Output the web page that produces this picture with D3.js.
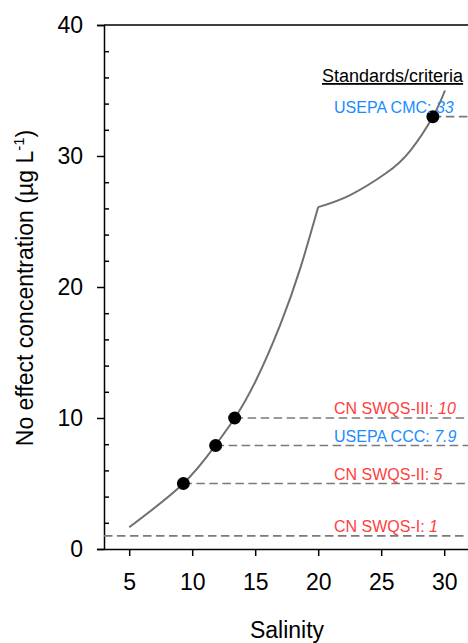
<!DOCTYPE html>
<html>
<head>
<meta charset="utf-8">
<script src="https://cdn.jsdelivr.net/npm/d3@7"></script>
<style>
	body { margin: 0; background: #fff; }
	svg { display: block; font-family: "Liberation Sans", Arial, sans-serif; }
</style>
</head>
<body>
<svg id="chart" width="468" height="643"></svg>
<script>

// curve, two pieces joined with a kink at salinity 20
var lowSalinity = [5, 9.3, 11.86, 13.37, 15, 17, 18.6, 20];
var lowNec = [1.66, 5.0, 7.94, 9.98, 12.75, 17.15, 21.5, 26.1];

var highSalinity = [20, 22.5, 25.4, 27.3, 29.1, 30.06];
var highNec = [26.1, 27.0, 28.7, 30.4, 33.0, 35.0];

// standards / criteria
var stdNames = ["USEPA CMC: ", "CN SWQS-III: ", "USEPA CCC: ", "CN SWQS-II: ", "CN SWQS-I: "];
var stdValues = [33, 10, 7.9, 5, 1];
var stdLabels = ["33", "10", "7.9", "5", "1"];
var stdSource = ["USEPA", "CN", "USEPA", "CN", "CN"];
var stdSalinity = [29.1, 13.37, 11.86, 9.3, null];

var xTicks = [5, 10, 15, 20, 25, 30];
var yTicks = [0, 10, 20, 30, 40];
var yMinorTicks = [2, 4, 6, 8, 12, 14, 16, 18, 22, 24, 26, 28, 32, 34, 36, 38];

var svg = d3.select("#chart");

var x = d3.scaleLinear().domain([3, 32]).range([104, 469.4]);
var y = d3.scaleLinear().domain([0, 40]).range([549, 25]);

var sourceColor = {"USEPA": "#1a8cff", "CN": "#ff4040"};

// axes

svg.append("line")
.attr("x1", x(3)).attr("x2", x(32))
.attr("y1", y(40)).attr("y2", y(40))
.attr("stroke", "#000").attr("stroke-width", 1.5);

var yAxis = svg.append("g")
.attr("transform", "translate(" + x(3) + ",0)")
.call(d3.axisLeft(y).tickValues(yTicks).tickSize(7).tickPadding(14).tickFormat(d3.format("d")));

svg.append("g")
.attr("transform", "translate(" + x(3) + ",0)")
.call(d3.axisRight(y).tickValues(yMinorTicks).tickSize(5).tickFormat(""))
.select(".domain").remove();

var xAxis = svg.append("g")
.attr("transform", "translate(0," + y(0) + ")")
.call(d3.axisBottom(x).tickValues(xTicks).tickSize(7).tickPadding(18).tickSizeOuter(0));

svg.selectAll(".tick line, .domain")
.attr("stroke", "#000")
.attr("stroke-width", 1.5);

svg.selectAll(".tick text")
.attr("fill", "#000")
.style("font-size", "23px");

// dashed standard lines

svg.selectAll(".std-line")
.data(stdValues)
.enter().append("line")
.attr("class", "std-line")
.attr("x1", function (d, i) { return stdSalinity[i] == null ? x(3) : x(stdSalinity[i]); })
.attr("x2", x(32))
.attr("y1", function (d) { return y(d); })
.attr("y2", function (d) { return y(d); })
.attr("stroke", "#7a7a7a")
.attr("stroke-width", 1.7)
.attr("stroke-dasharray", "8.5,4.5");

// curve

var line = d3.line()
.x(function (d) { return x(d[0]); })
.y(function (d) { return y(d[1]); })
.curve(d3.curveNatural);

svg.append("path")
.datum(d3.zip(lowSalinity, lowNec))
.attr("d", line)
.attr("fill", "none")
.attr("stroke", "#707070")
.attr("stroke-width", 2);

svg.append("path")
.datum(d3.zip(highSalinity, highNec))
.attr("d", line)
.attr("fill", "none")
.attr("stroke", "#707070")
.attr("stroke-width", 2);

// points where the curve meets a standard

svg.selectAll(".hit")
.data(stdValues.filter(function (d, i) { return stdSalinity[i] != null; }))
.enter().append("circle")
.attr("class", "hit")
.attr("cx", function (d) { return x(stdSalinity[stdValues.indexOf(d)]); })
.attr("cy", function (d) { return y(d); })
.attr("r", 6.5)
.attr("fill", "#000");

// labels

var labels = svg.selectAll(".std-label")
.data(stdValues)
.enter().append("text")
.attr("class", "std-label")
.attr("x", 334)
.attr("y", function (d) { return y(d) - 4; })
.attr("fill", function (d, i) { return sourceColor[stdSource[i]]; })
.style("font-size", "16px");

labels.append("tspan")
.text(function (d, i) { return stdNames[i]; });

labels.append("tspan")
.style("font-style", "italic")
.text(function (d, i) { return stdLabels[i]; });

svg.append("text")
.attr("x", 322)
.attr("y", 82)
.attr("fill", "#000")
.style("font-size", "18px")
.style("text-decoration", "underline")
.text("Standards/criteria");

// axis titles

svg.append("text")
.attr("x", 287)
.attr("y", 638)
.attr("fill", "#000")
.style("font-size", "23px")
.style("text-anchor", "middle")
.text("Salinity");

var yTitle = svg.append("text")
.attr("transform", "rotate(-90)")
.attr("x", -288)
.attr("y", 33)
.attr("fill", "#000")
.style("font-size", "23px")
.style("text-anchor", "middle");

yTitle.append("tspan").text("No effect concentration (\u00b5g L");
yTitle.append("tspan").attr("dy", -9).style("font-size", "15px").text("-1");
yTitle.append("tspan").attr("dy", 9).text(")");

</script>
</body>
</html>
